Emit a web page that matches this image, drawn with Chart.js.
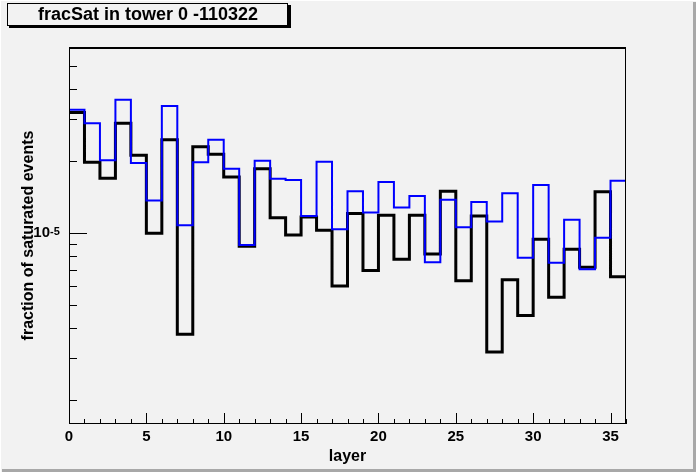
<!DOCTYPE html>
<html>
<head>
<meta charset="utf-8">
<script src="https://cdn.jsdelivr.net/npm/chart.js@4.4.1/dist/chart.umd.min.js"></script>
<style>
html,body{margin:0;padding:0;background:#f2f2f2;}
canvas{display:block;}
</style>
</head>
<body>
<canvas id="c" width="696" height="472"></canvas>
<script>
// ---- data ----
const chartTitle = "fracSat in tower 0 -110322";
const xTitle = "layer";
const yTitle = "fraction of saturated events";
const layers = [0,1,2,3,4,5,6,7,8,9,10,11,12,13,14,15,16,17,18,19,20,21,22,23,24,25,26,27,28,29,30,31,32,33,34,35];
const layerEnd = 36;
const blackValues = [3.20e-5,1.98e-5,1.70e-5,2.89e-5,2.12e-5,1.00e-5,2.46e-5,3.78e-6,2.30e-5,2.14e-5,
  1.72e-5,8.81e-6,1.86e-5,1.16e-5,9.84e-6,1.17e-5,1.03e-5,6.02e-6,1.21e-5,6.98e-6,
  1.19e-5,7.78e-6,1.19e-5,8.19e-6,1.50e-5,6.33e-6,1.18e-5,3.18e-6,6.38e-6,4.52e-6,
  9.44e-6,5.40e-6,8.57e-6,7.21e-6,1.49e-5,6.58e-6];
const blueValues = [3.29e-5,2.89e-5,2.02e-5,3.62e-5,1.97e-5,1.37e-5,3.41e-5,1.08e-5,1.98e-5,2.46e-5,
  1.86e-5,8.93e-6,2.01e-5,1.69e-5,1.67e-5,1.18e-5,1.99e-5,1.04e-5,1.50e-5,1.22e-5,
  1.64e-5,1.28e-5,1.43e-5,7.56e-6,1.38e-5,1.06e-5,1.35e-5,1.12e-5,1.47e-5,7.90e-6,
  1.59e-5,7.53e-6,1.14e-5,7.07e-6,9.58e-6,1.66e-5];
const xLabelTicks = [0,5,10,15,20,25,30,35];
const yLabelTicks = [1e-5];
const yLabelBase = ["10"];
const yLabelExp = ["-5"];
const yMinorTicks = [2e-6,3e-6,4e-6,5e-6,6e-6,7e-6,8e-6,9e-6,2e-5,3e-5,4e-5,5e-5];
const yRange = [1.59e-6, 6.02e-5];

function histPoints(vals){
  const pts = layers.map((x,i)=>({x:x, y:vals[i]}));
  pts.push({x:layerEnd, y:vals[vals.length-1]});
  return pts;
}

const FONT = "'Liberation Sans', Arial, Helvetica, sans-serif";

const decor = {
  id:'decor',
  beforeDraw(chart){
    const ctx = chart.ctx, W = chart.width, H = chart.height;
    ctx.save();
    ctx.fillStyle = '#f2f2f2';
    ctx.fillRect(0,0,W,H);
    ctx.fillStyle = '#ffffff';
    ctx.fillRect(0,0,W,1);
    ctx.fillRect(0,0,1,H);
    ctx.fillStyle = '#a8a8a8';
    ctx.fillRect(W-3,2,3,H-2);
    ctx.fillRect(2,H-3,W-2,3);
    ctx.restore();
  },
  afterDatasetsDraw(chart){
    const ctx = chart.ctx, a = chart.chartArea;
    const xs = chart.scales.x, ys = chart.scales.y;
    ctx.save();
    ctx.strokeStyle = '#000';
    // frame
    ctx.lineWidth = 1;
    ctx.beginPath();
    ctx.moveTo(a.left+0.5, a.top); ctx.lineTo(a.left+0.5, a.bottom);
    ctx.moveTo(a.right-0.5, a.top); ctx.lineTo(a.right-0.5, a.bottom);
    ctx.moveTo(a.left, a.bottom-0.5); ctx.lineTo(a.right, a.bottom-0.5);
    ctx.stroke();
    ctx.lineWidth = 2;
    ctx.beginPath();
    ctx.moveTo(a.left, a.top+1); ctx.lineTo(a.right, a.top+1);
    ctx.stroke();
    // inner tick marks
    ctx.lineWidth = 1;
    ctx.beginPath();
    for (let v = 0; v <= layerEnd; v++){
      const px = Math.round(xs.getPixelForValue(v)) + 0.5;
      const len = (v % 5 === 0) ? 11 : 5;
      ctx.moveTo(px, a.bottom); ctx.lineTo(px, a.bottom - len);
    }
    yMinorTicks.forEach(v=>{
      const py = Math.round(ys.getPixelForValue(v)) + 0.5;
      ctx.moveTo(a.left, py); ctx.lineTo(a.left + 8, py);
    });
    yLabelTicks.forEach(v=>{
      const py = Math.round(ys.getPixelForValue(v)) + 0.5;
      ctx.moveTo(a.left, py); ctx.lineTo(a.left + 18, py);
    });
    ctx.stroke();
    ctx.restore();
  },
  afterDraw(chart){
    const ctx = chart.ctx, ys = chart.scales.y;
    ctx.save();
    // exponent of the y tick label
    ctx.fillStyle = '#000';
    ctx.font = "bold 11px " + FONT;
    ctx.textAlign = 'left';
    ctx.textBaseline = 'alphabetic';
    yLabelTicks.forEach((v,i)=>{
      ctx.fillText(yLabelExp[i], 50, ys.getPixelForValue(v) + 2);
    });
    // title box with shadow
    ctx.fillStyle = '#000';
    ctx.fillRect(9,5,282,23);
    ctx.fillStyle = '#f2f2f2';
    ctx.fillRect(7,3,281,23);
    ctx.strokeStyle = '#000';
    ctx.lineWidth = 1;
    ctx.strokeRect(7.5,3.5,280,22);
    ctx.fillStyle = '#000';
    ctx.font = "bold 18px " + FONT;
    ctx.textAlign = 'center';
    ctx.textBaseline = 'middle';
    ctx.fillText(chartTitle, 148, 15);
    ctx.restore();
  }
};

new Chart(document.getElementById('c'), {
  type:'line',
  data:{
    datasets:[
      { label:'blue', data:histPoints(blueValues), borderColor:'#0000ff', borderWidth:2,
        stepped:'before', pointRadius:0, fill:false, tension:0, borderJoinStyle:'miter' },
      { label:'black', data:histPoints(blackValues), borderColor:'#000000', borderWidth:3,
        stepped:'before', pointRadius:0, fill:false, tension:0, borderJoinStyle:'miter' }
    ]
  },
  options:{
    responsive:false,
    animation:false,
    devicePixelRatio:1,
    layout:{ padding:{ top:47, right:70, left:0, bottom:0 } },
    plugins:{ legend:{display:false}, tooltip:{enabled:false}, title:{display:false} },
    scales:{
      x:{
        type:'linear', min:0, max:layerEnd,
        grid:{ display:false, drawTicks:false },
        border:{ display:false },
        afterBuildTicks(s){ s.ticks = xLabelTicks.map(v=>({value:v})); },
        afterFit(s){ s.height = 48; },
        ticks:{ color:'#000', font:{ family:FONT, size:15, weight:'bold' }, padding:4, maxRotation:0, autoSkip:false },
        title:{ display:true, text:xTitle, color:'#000', font:{ family:FONT, size:16, weight:'bold' }, padding:{top:0,bottom:6} }
      },
      y:{
        type:'logarithmic', min:yRange[0], max:yRange[1],
        grid:{ display:false, drawTicks:false },
        border:{ display:false },
        afterBuildTicks(s){ s.ticks = yLabelTicks.map(v=>({value:v})); },
        afterFit(s){ s.width = 69; },
        ticks:{ color:'#000', font:{ family:FONT, size:15, weight:'bold' }, padding:19, autoSkip:false,
          callback(v){ const i = yLabelTicks.indexOf(v); return i >= 0 ? yLabelBase[i] : ''; } },
        title:{ display:true, text:yTitle, color:'#000', font:{ family:FONT, size:16, weight:'bold' }, padding:{top:19,bottom:0} }
      }
    }
  },
  plugins:[decor]
});
</script>
</body>
</html>
